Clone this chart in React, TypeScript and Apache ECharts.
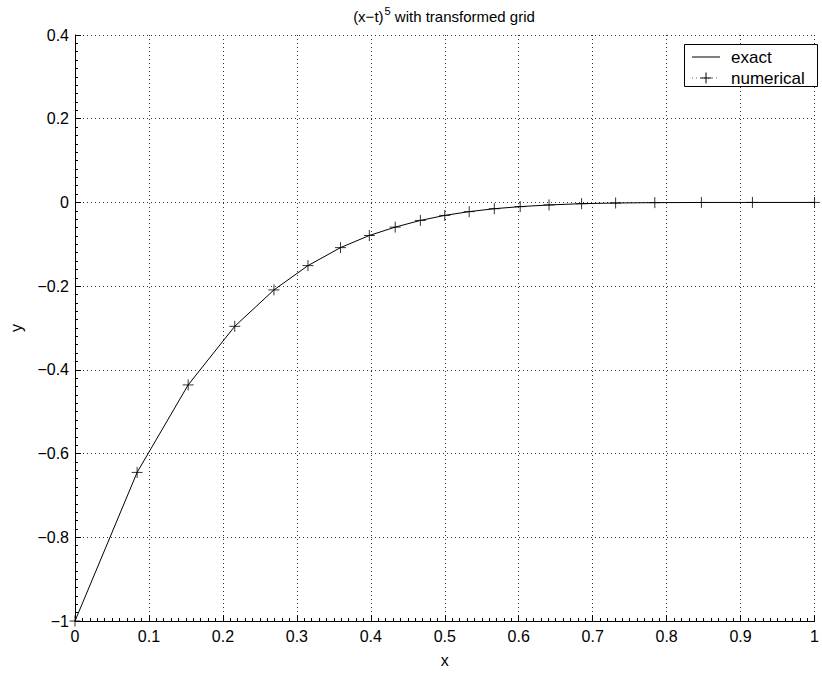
import React, { useEffect, useRef } from "react";
import * as echarts from "echarts";

// transformed grid nodes (x)
const gridX = [0, 0.084, 0.153, 0.216, 0.269, 0.315, 0.359, 0.398, 0.433, 0.467, 0.5, 0.533, 0.567, 0.602, 0.641, 0.685, 0.731, 0.784, 0.847, 0.916, 1];
// exact solution values at the nodes
const exactY = [-1, -0.645, -0.436, -0.296, -0.209, -0.151, -0.108, -0.079, -0.059, -0.043, -0.031, -0.022, -0.015, -0.01, -0.006, -0.003, -0.0014, -0.0005, -0.0001, 0, 0];
// numerical solution values at the nodes
const numericalY = [-1, -0.645, -0.436, -0.296, -0.209, -0.151, -0.108, -0.079, -0.059, -0.043, -0.031, -0.022, -0.015, -0.01, -0.006, -0.003, -0.0014, -0.0005, -0.0001, 0, 0];

const xTicks = [0, 0.1, 0.2, 0.3, 0.4, 0.5, 0.6, 0.7, 0.8, 0.9, 1];
const yTicks = [-1, -0.8, -0.6, -0.4, -0.2, 0, 0.2, 0.4];

const titleMain = "(x\u2212t)";
const titleSup = "5";
const titleRest = " with transformed grid";
const legendNames = ["exact", "numerical"];

const FONT = "'Liberation Sans', Arial, Helvetica, sans-serif";

const fmt = (v: number) => {
  const r = Math.round(v * 10) / 10;
  return String(r).replace("-", "\u2212");
};

export default function App() {
  const ref = useRef<HTMLDivElement>(null);
  useEffect(() => {
    if (!ref.current) return;
    const chart = echarts.init(ref.current, null, { renderer: "svg" });
    const exactData = gridX.map((x, i) => [x, exactY[i]]);
    const numData = gridX.map((x, i) => [x, numericalY[i]]);
    const axisCommon = {
      type: "value" as const,
      axisLine: { show: true, onZero: false, lineStyle: { color: "#000", width: 1 } },
      axisTick: { show: true, inside: true, length: 6, lineStyle: { color: "#000", width: 1 } },
      minorTick: { show: true, splitNumber: 10, length: 3, lineStyle: { color: "#000", width: 1 } },
      splitLine: { show: true, lineStyle: { color: "#333", width: 1, type: [1, 3] as any } },
      axisLabel: { color: "#000", fontSize: 16, fontFamily: FONT, formatter: fmt },
      nameTextStyle: { color: "#000", fontSize: 16, fontFamily: FONT },
    };
    chart.setOption({
      animation: false,
      backgroundColor: "#fff",
      grid: { left: 67, right: 1, top: 35, bottom: 43, containLabel: false },
      xAxis: {
        ...axisCommon,
        min: xTicks[0],
        max: xTicks[xTicks.length - 1],
        interval: 0.1,
        name: "x",
        nameLocation: "middle",
        nameGap: 31,
        axisLabel: { ...axisCommon.axisLabel, margin: 7, showMaxLabel: true, showMinLabel: true },
      },
      yAxis: {
        ...axisCommon,
        min: yTicks[0],
        max: yTicks[yTicks.length - 1],
        interval: 0.2,
        name: "y",
        nameLocation: "middle",
        nameGap: 51,
        axisLabel: { ...axisCommon.axisLabel, margin: 6 },
      },
      series: [
        {
          name: legendNames[0],
          type: "line",
          data: exactData,
          showSymbol: false,
          lineStyle: { color: "#000", width: 1 },
          z: 3,
        },
        {
          name: legendNames[1],
          type: "scatter",
          data: numData,
          symbol: "path://M5,0 L5,10 M0,5 L10,5",
          symbolSize: 11,
          itemStyle: { color: "none", borderColor: "#000", borderWidth: 1 },
          clip: false,
          z: 4,
        },
      ],
      graphic: [
        {
          type: "text",
          x: 444,
          y: 16,
          style: {
            text: "{a|" + titleMain + "}{s|" + titleSup + "}{a|" + titleRest + "}",
            align: "center",
            verticalAlign: "middle",
            rich: {
              a: { fontSize: 15, fontFamily: FONT, fill: "#000", color: "#000" },
              s: { fontSize: 11, fontFamily: FONT, fill: "#000", color: "#000", padding: [0, 0, 11, 1] },
            },
          },
        },
        {
          type: "rect",
          shape: { x: 684.5, y: 44.5, width: 133, height: 42 },
          style: { fill: "#fff", stroke: "#000", lineWidth: 1 },
          z: 10,
        },
        {
          type: "line",
          shape: { x1: 692, y1: 57, x2: 720, y2: 57 },
          style: { stroke: "#000", lineWidth: 1 },
          z: 11,
        },
        {
          type: "text",
          x: 731,
          y: 57,
          style: { text: legendNames[0], fontSize: 17, fontFamily: FONT, fill: "#000", verticalAlign: "middle" },
          z: 11,
        },
        {
          type: "line",
          shape: { x1: 692, y1: 78, x2: 720, y2: 78 },
          style: { stroke: "#666", lineWidth: 1, lineDash: [1, 3] },
          z: 11,
        },
        {
          type: "line",
          shape: { x1: 700.5, y1: 78, x2: 711.5, y2: 78 },
          style: { stroke: "#000", lineWidth: 1 },
          z: 12,
        },
        {
          type: "line",
          shape: { x1: 706, y1: 72.5, x2: 706, y2: 83.5 },
          style: { stroke: "#000", lineWidth: 1 },
          z: 12,
        },
        {
          type: "text",
          x: 731,
          y: 78,
          style: { text: legendNames[1], fontSize: 17, fontFamily: FONT, fill: "#000", verticalAlign: "middle" },
          z: 11,
        },
      ],
    });
    return () => chart.dispose();
  }, []);
  return (
    <div
      ref={ref}
      style={{ position: "fixed", left: 0, top: 0, width: 822, height: 673, background: "#fff" }}
    />
  );
}
